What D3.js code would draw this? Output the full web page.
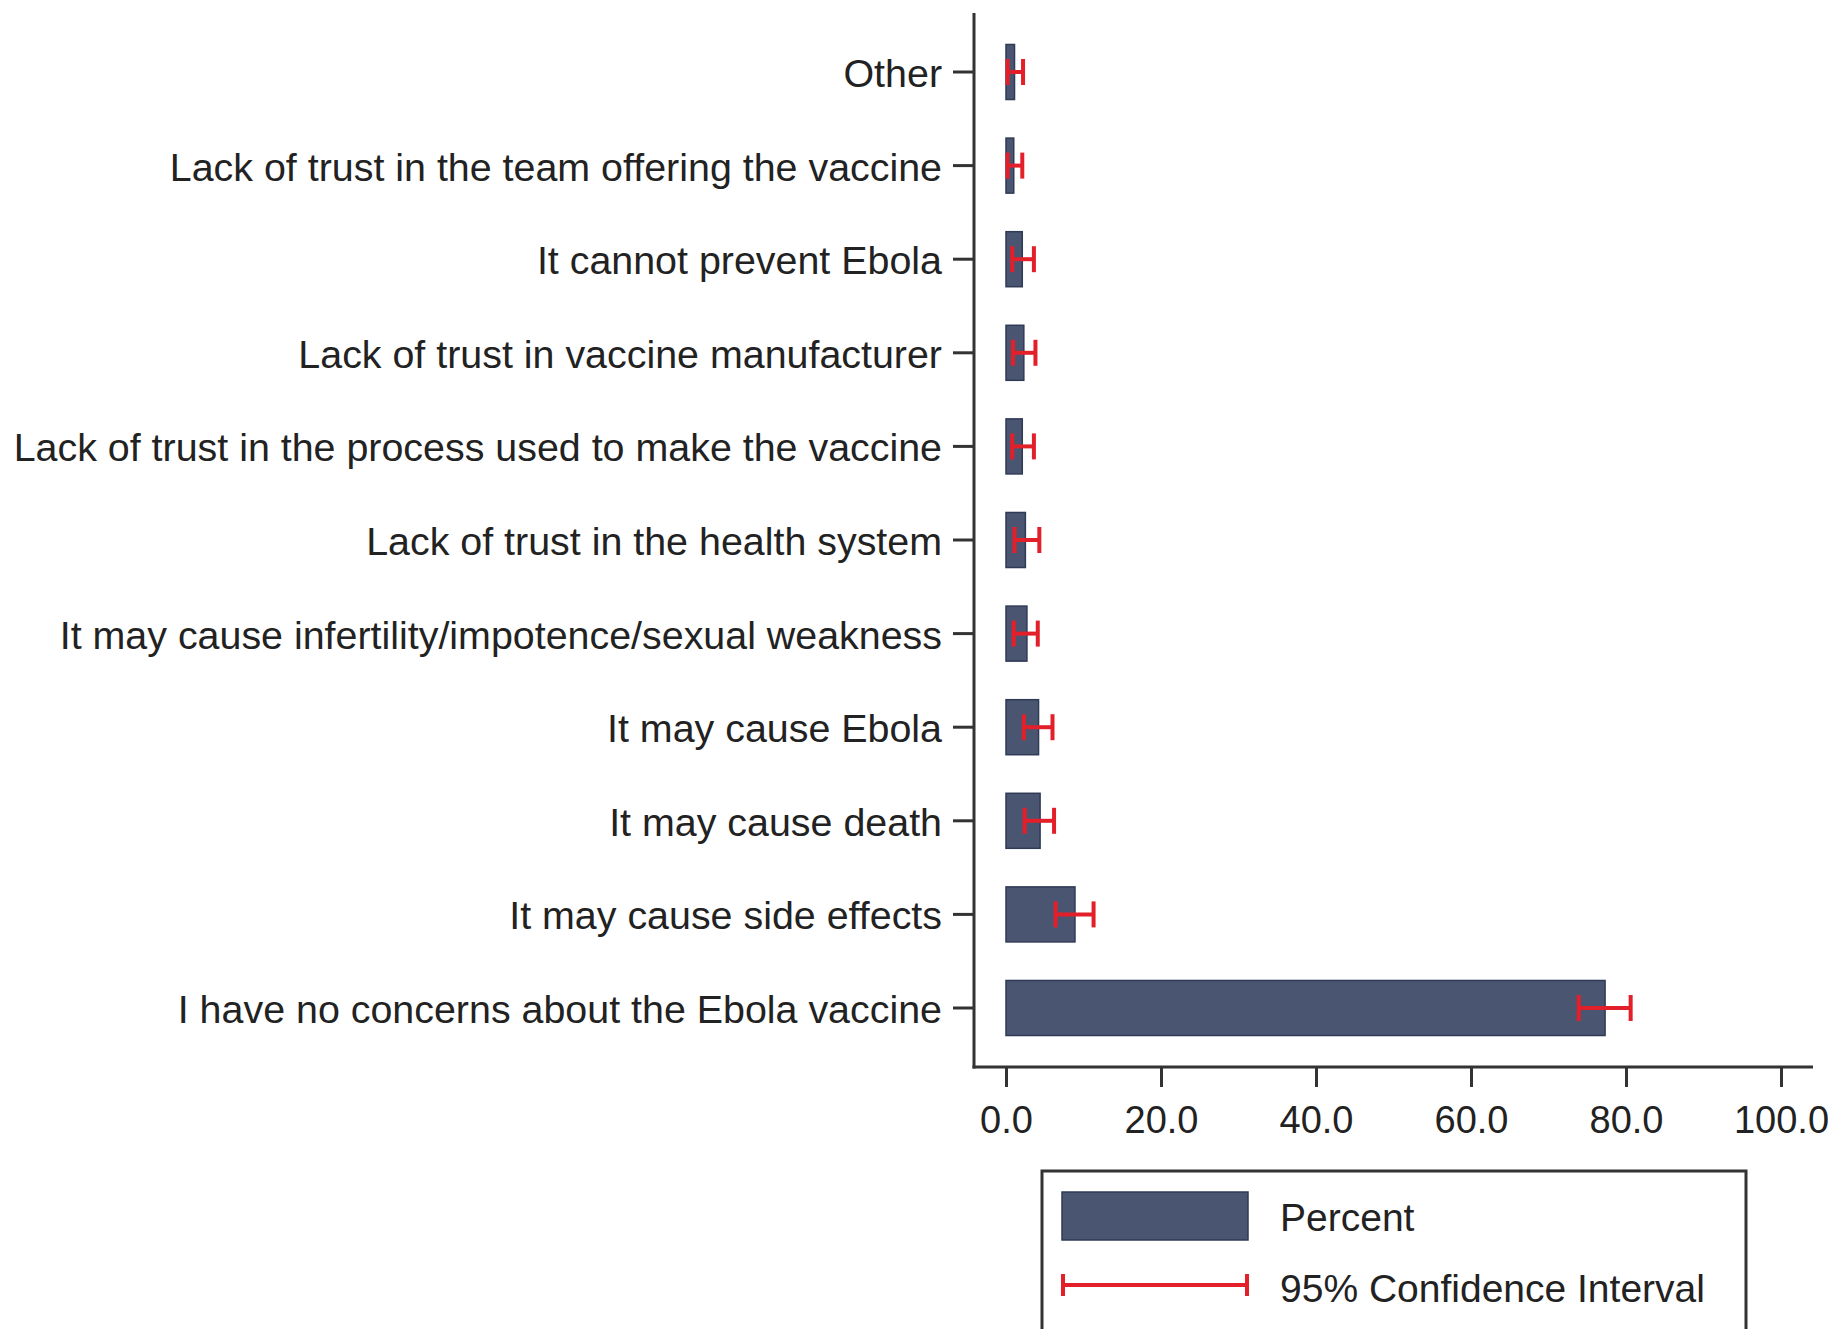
<!DOCTYPE html>
<html>
<head>
<meta charset="utf-8">
<script src="https://cdn.jsdelivr.net/npm/d3@7"></script>
<style>
html, body { margin: 0; padding: 0; background: #fff; }
svg { display: block; }
text { font-family: "Liberation Sans", Arial, Helvetica, sans-serif; fill: #222; }
</style>
</head>
<body>
<svg id="chart" width="1839" height="1329"></svg>
<script>
// Categories, top to bottom
const categories = [
  "Other",
  "Lack of trust in the team offering the vaccine",
  "It cannot prevent Ebola",
  "Lack of trust in vaccine manufacturer",
  "Lack of trust in the process used to make the vaccine",
  "Lack of trust in the health system",
  "It may cause infertility/impotence/sexual weakness",
  "It may cause Ebola",
  "It may cause death",
  "It may cause side effects",
  "I have no concerns about the Ebola vaccine"
];
const percent = [1.1, 1.0, 2.1, 2.3, 2.1, 2.5, 2.7, 4.2, 4.4, 8.9, 77.3];
const ciLower = [0.2, 0.2, 0.8, 0.9, 0.8, 1.1, 1.0, 2.3, 2.4, 6.4, 73.9];
const ciUpper = [2.2, 2.1, 3.6, 3.8, 3.6, 4.3, 4.1, 6.0, 6.2, 11.3, 80.6];
const xTicks = [0, 20, 40, 60, 80, 100];
const legendLabels = ["Percent", "95% Confidence Interval"];

const barColor = "#4a5572";
const barStroke = "#2f3a55";
const ciColor = "#e3202a";
const axisColor = "#333";

const svg = d3.select("#chart");

const x = d3.scaleLinear().domain([0, 100]).range([1006, 1781]);
const y = d3.scaleBand().domain(categories).range([25.2, 1054.8])
  .paddingInner(0.412).paddingOuter(0.206);

const axisX0 = 974, axisY = 1067, axisTop = 13, axisRight = 1813;

// Bars
svg.append("g").selectAll("rect").data(categories).join("rect")
  .attr("x", x(0))
  .attr("y", d => y(d))
  .attr("width", (d, i) => x(percent[i]) - x(0))
  .attr("height", y.bandwidth())
  .attr("fill", barColor)
  .attr("stroke", barStroke)
  .attr("stroke-width", 1.5);

// CI error bars
const capH = 13;
const ci = svg.append("g").attr("stroke", ciColor).attr("stroke-width", 4).attr("fill", "none");
categories.forEach((c, i) => {
  const cy = y(c) + y.bandwidth() / 2;
  ci.append("line").attr("x1", x(ciLower[i])).attr("x2", x(ciUpper[i])).attr("y1", cy).attr("y2", cy);
  ci.append("line").attr("x1", x(ciLower[i])).attr("x2", x(ciLower[i])).attr("y1", cy - capH).attr("y2", cy + capH);
  ci.append("line").attr("x1", x(ciUpper[i])).attr("x2", x(ciUpper[i])).attr("y1", cy - capH).attr("y2", cy + capH);
});

// Y axis
const yAxis = d3.axisLeft(y).tickSize(21).tickPadding(11);
const gy = svg.append("g").attr("transform", `translate(${axisX0},0)`).call(yAxis);
gy.select(".domain").remove();
gy.selectAll(".tick line").attr("stroke", axisColor).attr("stroke-width", 3);
gy.selectAll(".tick text").attr("font-size", 39.4).attr("fill", "#222").attr("dy", "0.38em")
  .style("font-family", '"Liberation Sans", Arial, sans-serif');
svg.append("line").attr("x1", axisX0).attr("x2", axisX0).attr("y1", axisTop).attr("y2", axisY + 1.5)
  .attr("stroke", axisColor).attr("stroke-width", 3);

// X axis
const xAxis = d3.axisBottom(x).tickValues(xTicks).tickFormat(d3.format(".1f")).tickSize(20).tickPadding(19);
const gx = svg.append("g").attr("transform", `translate(0,${axisY})`).call(xAxis);
gx.select(".domain").remove();
gx.selectAll(".tick line").attr("stroke", axisColor).attr("stroke-width", 3);
gx.selectAll(".tick text").attr("font-size", 38).attr("fill", "#222")
  .style("font-family", '"Liberation Sans", Arial, sans-serif');
svg.append("line").attr("x1", axisX0 - 1.5).attr("x2", axisRight).attr("y1", axisY).attr("y2", axisY)
  .attr("stroke", axisColor).attr("stroke-width", 3);

// Legend
const lg = svg.append("g");
lg.append("rect").attr("x", 1042).attr("y", 1171).attr("width", 704).attr("height", 200)
  .attr("fill", "#fff").attr("stroke", axisColor).attr("stroke-width", 3);
lg.append("rect").attr("x", 1062).attr("y", 1192).attr("width", 186).attr("height", 48)
  .attr("fill", barColor).attr("stroke", barStroke).attr("stroke-width", 1.5);
const ly = 1285;
lg.append("line").attr("x1", 1063).attr("x2", 1247).attr("y1", ly).attr("y2", ly).attr("stroke", ciColor).attr("stroke-width", 4);
lg.append("line").attr("x1", 1063).attr("x2", 1063).attr("y1", ly - 11).attr("y2", ly + 11).attr("stroke", ciColor).attr("stroke-width", 4);
lg.append("line").attr("x1", 1247).attr("x2", 1247).attr("y1", ly - 11).attr("y2", ly + 11).attr("stroke", ciColor).attr("stroke-width", 4);
lg.append("text").attr("x", 1280).attr("y", 1231).attr("font-size", 39).text(legendLabels[0]);
lg.append("text").attr("x", 1280).attr("y", 1302).attr("font-size", 39).text(legendLabels[1]);
</script>
</body>
</html>
